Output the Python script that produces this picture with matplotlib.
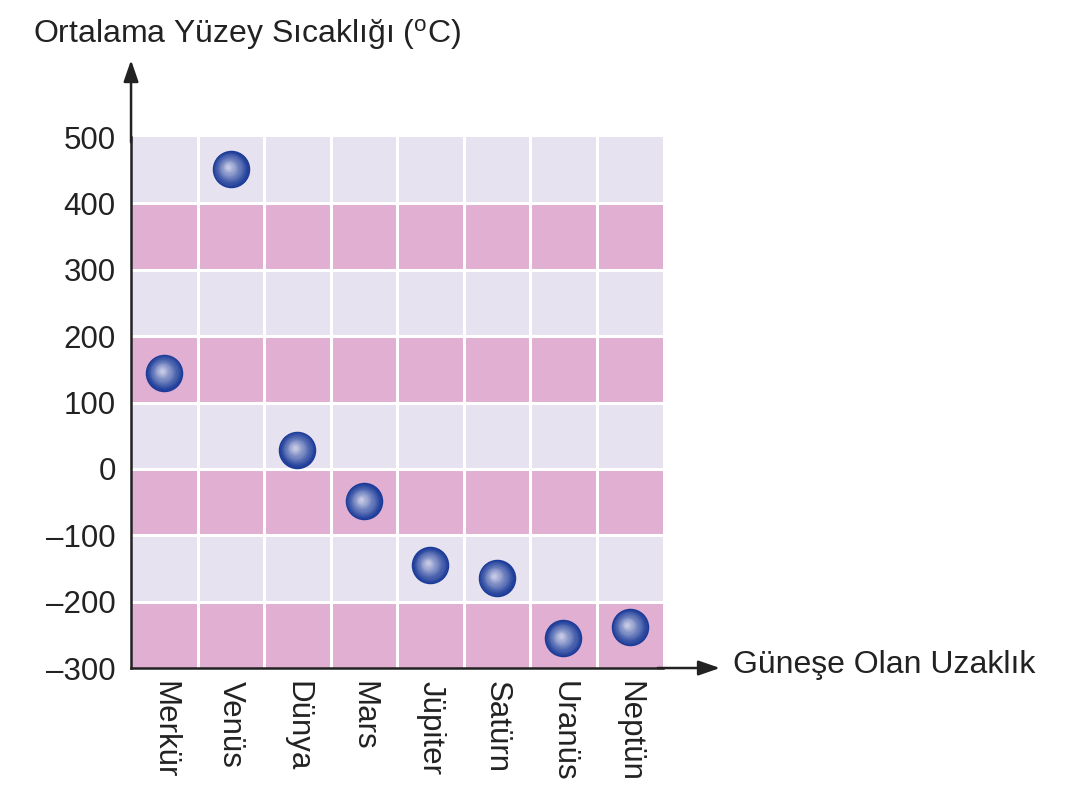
import matplotlib
matplotlib.use("Agg")
import matplotlib.pyplot as plt
import matplotlib.transforms as mtransforms
import numpy as np
from matplotlib.colors import to_rgb

plt.rcParams['font.family'] = ['Liberation Sans', 'DejaVu Sans']
plt.rcParams['mathtext.fontset'] = 'custom'
plt.rcParams['mathtext.rm'] = 'Liberation Sans'

planets = ['Merkür', 'Venüs', 'Dünya', 'Mars', 'Jüpiter', 'Satürn', 'Uranüs', 'Neptün']
temps = [145, 452, 29, -49, -145, -164, -255, -238]
y_ticks = [-300, -200, -100, 0, 100, 200, 300, 400, 500]
y_labels = ['–300', '–200', '–100', '0', '100', '200', '300', '400', '500']

light = '#E6E2EF'
pink = '#E1AFD1'

fig = plt.figure(figsize=(10.75, 8.11), dpi=100)
ax = fig.add_axes([0.1219, 0.1763, 0.4949, 0.6547])
ax.set_xlim(0, len(planets))
ax.set_ylim(y_ticks[0], y_ticks[-1])

# striped background, pink on every other 100 band
for i in range(len(y_ticks) - 1):
    c = pink if i % 2 == 0 else light
    ax.axhspan(y_ticks[i], y_ticks[i + 1], color=c, zorder=0, lw=0)
for v in y_ticks[1:-1]:
    ax.axhline(v, color='white', lw=2.2, zorder=1)
for k in range(1, len(planets)):
    ax.axvline(k, color='white', lw=2.2, zorder=1)

# shaded spheres
xs = np.arange(len(planets)) + 0.5
outer = np.array(to_rgb('#1A3A98'))
inner = np.array(to_rgb('#C4C8E4'))
n = 18
sizes = np.linspace(27, 3, n)
for j, sz in enumerate(sizes):
    t = (j / (n - 1)) ** 1.1
    col = outer * (1 - t) + inner * t
    off = mtransforms.offset_copy(ax.transData, fig=fig, x=-2.0 * j / n, y=1.5 * j / n, units='points')
    ax.scatter(xs, temps, s=sz ** 2, color=col, lw=0, zorder=3 + j, transform=off, clip_on=False)

for s in ['top', 'right']:
    ax.spines[s].set_visible(False)
for s in ['left', 'bottom']:
    ax.spines[s].set_linewidth(1.8)
    ax.spines[s].set_color('#222222')
    ax.spines[s].set_zorder(40)

arrow = dict(arrowstyle='-|>,head_length=1.3,head_width=0.45', color='#222222', lw=1.8, shrinkA=0, shrinkB=0)
ax.annotate('', xy=(0, 1.145), xytext=(0, 0.99), xycoords='axes fraction', arrowprops=arrow, annotation_clip=False)
ax.annotate('', xy=(1.107, 0), xytext=(0.99, 0), xycoords='axes fraction', arrowprops=arrow, annotation_clip=False)

ax.set_yticks(y_ticks)
ax.set_yticklabels(y_labels, fontsize=22.5, color='#222222')
ax.set_xticks(xs)
ax.set_xticklabels(planets, rotation=270, fontsize=22.5, color='#222222', va='top', ha='center')
ax.tick_params(axis='both', length=0)
ax.tick_params(axis='y', pad=11)
ax.tick_params(axis='x', pad=9)

fig.text(0.0307, 0.957, r'Ortalama Yüzey Sıcaklığı ($\mathregular{^o}$C)', fontsize=23,
         color='#222222', va='center', ha='left')
fig.text(0.682, 0.180, 'Güneşe Olan Uzaklık', fontsize=23, color='#222222', va='center', ha='left')

fig.savefig('out.png', dpi=100, facecolor='white')
